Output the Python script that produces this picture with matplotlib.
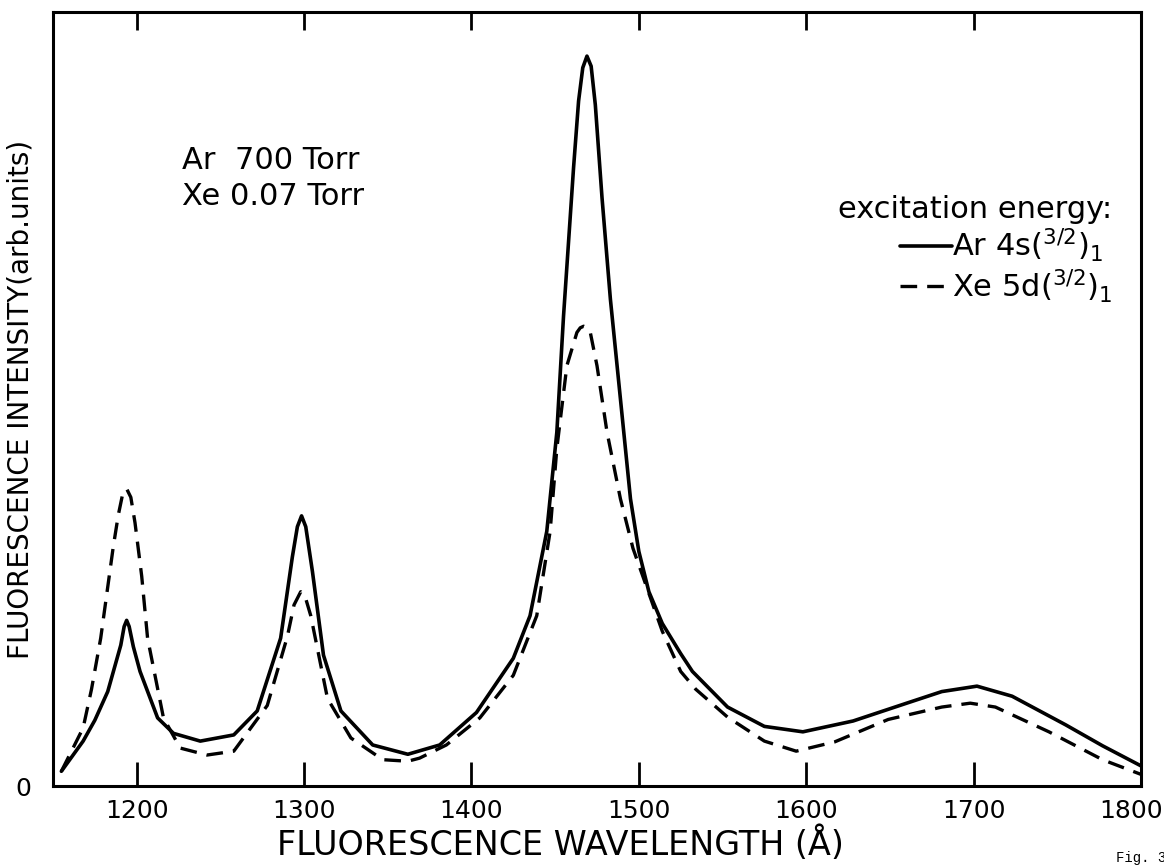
"""Fluorescence spectra of Ar/Xe mixture for two excitation energies."""

import matplotlib

matplotlib.use("Agg")
import matplotlib.pyplot as plt
from matplotlib.transforms import ScaledTranslation

# Ar 4s(3/2)1 excitation (solid)
ar_wavelength = [1155, 1168, 1175, 1182.7, 1190.5, 1192.5, 1194, 1195.5, 1198, 1202,
                 1212.5, 1222, 1238, 1258, 1272, 1286, 1293, 1296, 1298.5, 1301,
                 1305, 1311.6, 1322, 1341, 1362, 1381, 1403, 1425, 1435, 1445,
                 1451, 1455, 1461, 1464, 1466.5, 1469, 1471.5, 1474, 1478, 1483,
                 1489, 1495, 1500, 1506, 1514, 1525, 1532, 1553, 1575, 1598,
                 1628, 1660, 1681, 1702, 1723, 1755, 1777, 1800]
ar_intensity = [1.9, 5.8, 8.5, 12.2, 18.2, 20.6, 21.4, 20.6, 18.0, 14.8,
                8.8, 6.8, 5.8, 6.6, 9.7, 19.1, 29.6, 33.5, 34.9, 33.5,
                27.7, 16.9, 9.7, 5.3, 4.1, 5.3, 9.5, 16.5, 22.0, 32.9,
                45.7, 60.7, 79.9, 88.5, 92.8, 94.3, 93.0, 88.0, 76.0, 62.9,
                50.0, 37.1, 30.3, 25.1, 21.0, 17.1, 14.8, 10.2, 7.7, 7.0,
                8.4, 10.7, 12.2, 12.9, 11.6, 7.9, 5.2, 2.6]

# Xe 5d(3/2)1 excitation (dashed)
xe_wavelength = [1155, 1168, 1173, 1178.5, 1186, 1189, 1191.5, 1194, 1196.5, 1199,
                 1203, 1206.5, 1216, 1226, 1242, 1258, 1278, 1290, 1294, 1298,
                 1301, 1304, 1314, 1328, 1347, 1362, 1369, 1385, 1405, 1425,
                 1439, 1447, 1451, 1457, 1463, 1465, 1467, 1469, 1471, 1475,
                 1481, 1489, 1496.5, 1505, 1514, 1525, 1534, 1553, 1575, 1594,
                 1617, 1649, 1681, 1698, 1713, 1745, 1777, 1800]
xe_intensity = [1.9, 7.5, 12.5, 19.1, 30.9, 35.0, 37.6, 38.4, 37.3, 34.0,
                27.1, 19.1, 8.8, 4.9, 4.0, 4.5, 10.4, 19.3, 23.4, 25.1,
                24.2, 22.0, 11.3, 6.2, 3.4, 3.2, 3.6, 5.3, 8.8, 14.3,
                22.0, 32.9, 43.6, 54.3, 58.6, 59.2, 59.4, 59.2, 58.6, 54.3,
                45.7, 37.1, 30.7, 25.5, 20.0, 14.8, 12.5, 8.9, 5.8, 4.5,
                5.7, 8.6, 10.2, 10.7, 10.2, 7.0, 3.4, 1.5]

x_ticks = [1200, 1300, 1400, 1500, 1600, 1700, 1800]

FONT = "DejaVu Sans"

fig = plt.figure(figsize=(11.64, 8.67), dpi=100)
ax = fig.add_axes([53 / 1164, 1 - 786 / 867, (1141 - 53) / 1164, (786 - 12) / 867])

ax.plot(ar_wavelength, ar_intensity, color="black", linewidth=2.6,
        solid_capstyle="round", solid_joinstyle="round",
        label=r"Ar 4s$(^{3/2})_{1}$")
ax.plot(xe_wavelength, xe_intensity, color="black", linewidth=2.4,
        linestyle=(0, (5, 3)), dash_joinstyle="round",
        label=r"Xe 5d$(^{3/2})_{1}$")

ax.set_xlim(1150, 1800)
ax.set_ylim(0, 100)

ax.set_xticks(x_ticks)
ax.set_xticklabels([str(t) for t in x_ticks], fontsize=18, family=FONT)
ax.tick_params(axis="x", direction="in", length=17, width=2, top=True, pad=9)
for tick in ax.xaxis.get_major_ticks():
    tick.tick2line.set_markersize(13)
# last label sits on the frame corner, nudge it inward a bit
last = ax.get_xticklabels()[-1]
last.set_transform(last.get_transform() + ScaledTranslation(-10 / 100, 0, fig.dpi_scale_trans))

ax.set_yticks([0])
ax.set_yticklabels(["0"], fontsize=18, family=FONT)
ax.tick_params(axis="y", length=0, pad=16)

for spine in ax.spines.values():
    spine.set_linewidth(2.2)

ax.set_xlabel("FLUORESCENCE WAVELENGTH (Å)", fontsize=24, family=FONT)
ax.xaxis.set_label_coords((560 - 53) / 1088, -0.052)
ax.set_ylabel("FLUORESCENCE INTENSITY(arb.units)", fontsize=20, family=FONT)
ax.yaxis.set_label_coords(-18 / 1088, 0.5)

ax.text(0.119, 0.785, "Ar  700 Torr\nXe 0.07 Torr", transform=ax.transAxes,
        fontsize=22, family=FONT, va="center", ha="left", linespacing=1.3)

leg = ax.legend(loc="upper right", bbox_to_anchor=(0.985, 0.78), frameon=False,
                title="excitation energy:", title_fontsize=22,
                prop={"family": FONT, "size": 22}, handlelength=1.7,
                handletextpad=0.0, borderaxespad=0.0, labelspacing=0.1,
                alignment="right")
leg.get_title().set_family(FONT)

fig.text(1116 / 1164, 1 - 862 / 867, "Fig. 3", fontsize=10, family="Liberation Mono")

fig.savefig("out.png", dpi=100)
